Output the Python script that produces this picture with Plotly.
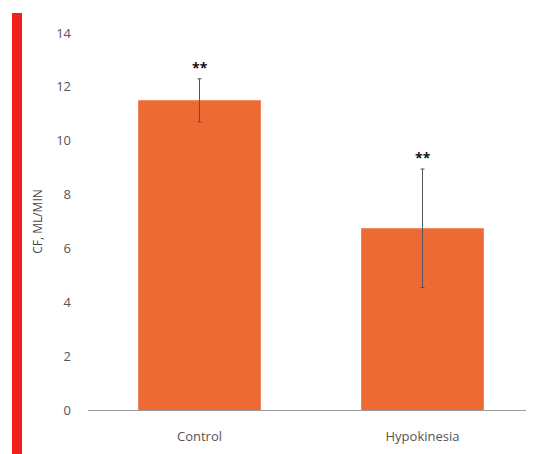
import plotly.graph_objects as go

categories = ["Control", "Hypokinesia"]
values = [11.5, 6.75]
errors = [0.8, 2.2]
significance = ["**", "**"]
y_ticks = [0, 2, 4, 6, 8, 10, 12, 14]

# page body has an 8px margin, so the figure is drawn 8px smaller
W, H = 526, 446
ml, mr, mt, mb = 80, 0, 25, 44
plot_w = W - ml - mr
plot_h = H - mt - mb

fig = go.Figure()
fig.add_trace(go.Bar(
    x=categories, y=values,
    marker=dict(color="#EE6A34", line=dict(width=0)),
    width=0.55,
    error_y=dict(type="data", array=errors, visible=True,
                 color="#555555", thickness=1, width=2),
    showlegend=False,
))

for c, v, e, s in zip(categories, values, errors, significance):
    fig.add_annotation(x=c, y=v + e, text="<b>" + s + "</b>", showarrow=False,
                       yanchor="bottom", yshift=0,
                       font=dict(size=14, color="#111111", family="Open Sans"))

# red decorative stripe at left edge
fig.add_shape(type="rect", xref="paper", yref="paper",
              x0=(4 - ml) / plot_w, x1=(14 - ml) / plot_w,
              y0=-mb / plot_h, y1=(H - 5 - mb) / plot_h,
              fillcolor="#F0201A", line=dict(width=0), layer="above")

fig.update_layout(
    width=W, height=H,
    margin=dict(l=ml, r=mr, t=mt, b=mb),
    paper_bgcolor="white", plot_bgcolor="white",
    font=dict(family="Open Sans", size=12, color="#555555"),
    bargap=0.45,
)
fig.update_yaxes(range=[0, 14], tickvals=y_ticks, showgrid=False,
                 zeroline=False, showline=False, ticks="",
                 ticklabelstandoff=16, tickfont=dict(size=13),
                 title=dict(text="CF, ML/MIN", standoff=10,
                            font=dict(size=12, color="#444444")))
fig.update_xaxes(showline=True, linecolor="#999999", linewidth=1,
                 ticks="", showgrid=False, ticklabelstandoff=14,
                 tickfont=dict(size=13))

fig.write_html("out.html")
